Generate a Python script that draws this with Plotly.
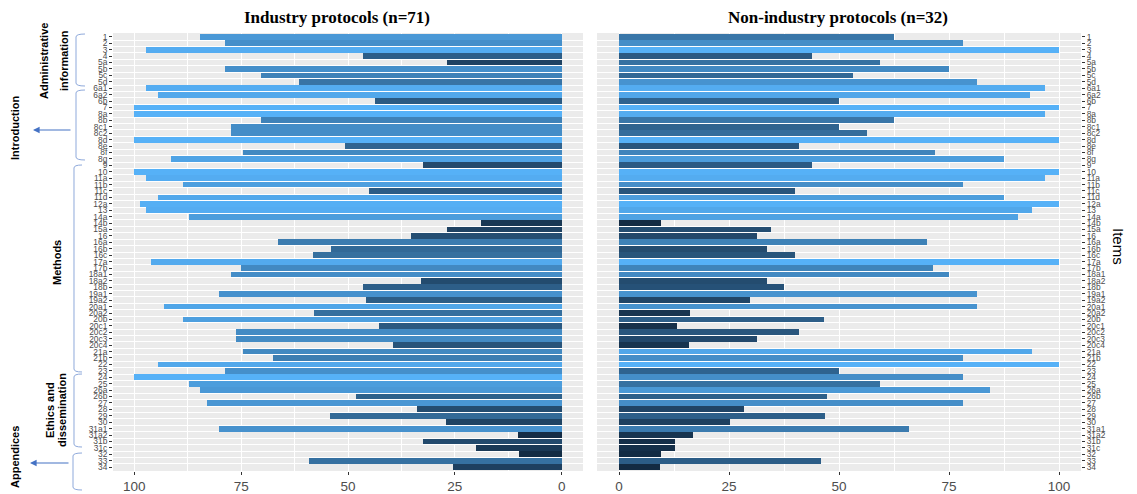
import numpy as np
import plotly.graph_objects as go

items = ["1","2","3","4","5a","5b","5c","5d","6a1","6a2","6b","7","8a","8b","8c1","8c2","8d","8e","8f","8g",
         "9","10","11a","11b","11c","11d","12a","13","14a","14b","15a","16","16a","16b","16c","17a","17b",
         "18a1","18a2","18b","19a1","19a2","20a1","20a2","20b","20c1","20c2","20c3","20c4","21a","21b",
         "22","23","24","25","26a","26b","27","28","29","30","31a1","31a2","31b","31c","32","33","34"]

industry = [84.6,78.9,97.2,46.5,26.8,78.9,70.4,61.4,97.2,94.4,43.7,100,100,70.4,77.5,77.5,100,50.7,74.6,91.5,
            32.4,100,97.2,88.7,45.1,94.4,98.6,97.2,87.3,18.9,26.8,35.2,66.4,54.0,58.3,96.0,75.0,
            77.5,32.8,46.5,80.3,45.8,93.0,57.9,88.7,42.8,76.1,76.1,39.4,74.6,67.6,
            94.4,78.9,100,87.3,84.6,48.2,83.1,33.8,54.3,27.0,80.3,10.2,32.4,20.0,9.9,59.2,25.4]

non_industry = [62.5,78.1,100,43.8,59.4,75.0,53.1,81.3,96.9,93.4,50.0,100,96.9,62.5,50.0,56.4,100,40.8,71.9,87.5,
                43.8,100,96.9,78.1,40.1,87.5,100,93.8,90.7,9.5,34.5,31.3,70.1,33.6,40.1,100,71.4,
                75.1,33.6,37.6,81.4,29.7,81.4,16.1,46.5,13.2,40.8,31.3,15.9,93.9,78.2,
                100,50.1,78.2,59.4,84.4,47.2,78.2,28.3,46.9,25.2,65.8,16.8,12.7,12.7,9.5,46.0,9.3]

titles = ["Industry protocols (n=71)", "Non-industry protocols (n=32)"]
x_ticks = [0, 25, 50, 75, 100]

# ---------- colour: ggplot-like Lab gradient ----------
def _hex2rgb(h):
    h = h.lstrip('#'); return np.array([int(h[i:i+2], 16) for i in (0, 2, 4)]) / 255.0
def _rgb2lab(c):
    c = np.where(c <= 0.04045, c / 12.92, ((c + 0.055) / 1.055) ** 2.4)
    M = np.array([[0.4124, 0.3576, 0.1805], [0.2126, 0.7152, 0.0722], [0.0193, 0.1192, 0.9505]])
    xyz = M @ c / np.array([0.95047, 1.0, 1.08883])
    f = np.where(xyz > 0.008856, np.cbrt(xyz), 7.787 * xyz + 16 / 116)
    return np.array([116 * f[1] - 16, 500 * (f[0] - f[1]), 200 * (f[1] - f[2])])
def _lab2hex(lab):
    fy = (lab[0] + 16) / 116; fx = fy + lab[1] / 500; fz = fy - lab[2] / 200
    f = np.array([fx, fy, fz])
    xyz = np.where(f ** 3 > 0.008856, f ** 3, (f - 16 / 116) / 7.787) * np.array([0.95047, 1.0, 1.08883])
    Mi = np.array([[3.2406, -1.5372, -0.4986], [-0.9689, 1.8758, 0.0415], [0.0557, -0.2040, 1.0570]])
    c = Mi @ xyz
    c = np.where(c <= 0.0031308, 12.92 * c, 1.055 * np.clip(c, 0, None) ** (1 / 2.4) - 0.055)
    c = np.clip(np.round(c * 255), 0, 255).astype(int)
    return '#%02x%02x%02x' % tuple(c)
LOW, HIGH = _rgb2lab(_hex2rgb('#132B43')), _rgb2lab(_hex2rgb('#56B1F7'))
vmin = min(min(industry), min(non_industry)); vmax = max(max(industry), max(non_industry))
def colours(vals):
    return [_lab2hex(LOW + (HIGH - LOW) * ((v - vmin) / (vmax - vmin))) for v in vals]

W, H = 1137, 494
OFF = 8  # page body margin offset
def X(px): return (px - OFF) / W
def Y(py): return 1 - (py - OFF) / H

pos = list(range(len(items)))

fig = go.Figure()
fig.add_trace(go.Bar(y=pos, x=industry, orientation='h', width=0.9, xaxis='x', yaxis='y',
                     marker=dict(color=colours(industry), line=dict(width=0)), showlegend=False))
fig.add_trace(go.Bar(y=pos, x=non_industry, orientation='h', width=0.9, xaxis='x2', yaxis='y2',
                     marker=dict(color=colours(non_industry), line=dict(width=0)), showlegend=False))

tickfont_y = dict(family="Liberation Sans", size=8.4, color="#4D4D4D")
tickfont_x = dict(family="Liberation Sans", size=13.5, color="#4D4D4D")
ydom = [Y(471), Y(33)]
common_x = dict(tickvals=x_ticks, showgrid=True, gridcolor='white', gridwidth=1.4,
                zeroline=False, ticks='outside', ticklen=3, tickcolor='#333333', tickfont=tickfont_x,
                minor=dict(dtick=12.5, tick0=0, showgrid=True, gridcolor='white', gridwidth=0.7, ticks=''),
                showline=False, automargin=False, fixedrange=True)
common_y = dict(range=[len(items) - 0.4, -0.6], tickvals=pos, ticktext=items, showgrid=False,
                zeroline=False, ticks='outside', ticklen=3, tickcolor='#333333', tickfont=tickfont_y,
                minor=dict(tick0=0.5, dtick=1, showgrid=True, gridcolor='white', gridwidth=1, ticks=''),
                domain=ydom, automargin=False, fixedrange=True)

fig.update_layout(
    width=W, height=H, margin=dict(l=0, r=0, t=0, b=0),
    paper_bgcolor='white', plot_bgcolor='#EBEBEB', bargap=0,
    xaxis=dict(common_x, range=[105, -5], domain=[X(113), X(583)], anchor='y'),
    xaxis2=dict(common_x, range=[-5, 105], domain=[X(597), X(1081)], anchor='y2'),
    yaxis=dict(common_y, anchor='x', side='left'),
    yaxis2=dict(common_y, anchor='x2', side='right'),
)

ann = []
ann.append(dict(text="<b>%s</b>" % titles[0], x=X(337), y=Y(17), xref='paper', yref='paper', showarrow=False,
                font=dict(family="Liberation Serif", size=17, color='black'), xanchor='center', yanchor='middle'))
ann.append(dict(text="<b>%s</b>" % titles[1], x=X(838), y=Y(17), xref='paper', yref='paper', showarrow=False,
                font=dict(family="Liberation Serif", size=17, color='black'), xanchor='center', yanchor='middle'))
ann.append(dict(text="Items", x=X(1119), y=Y(246), xref='paper', yref='paper', showarrow=False, textangle=90,
                font=dict(family="Liberation Sans", size=15, color='black'), xanchor='center', yanchor='middle'))

sec_font = dict(family="Liberation Sans", size=11, color='black')
for txt, px, py in [("Administrative", 44, 61), ("information", 64, 61), ("Introduction", 15, 128),
                    ("Methods", 57, 263), ("Ethics and", 50, 410), ("dissemination", 62, 410),
                    ("Appendices", 15, 457)]:
    ann.append(dict(text="<b>%s</b>" % txt, x=X(px), y=Y(py), xref='paper', yref='paper', showarrow=False,
                    textangle=-90, font=sec_font, xanchor='center', yanchor='middle'))

for py, x0, x1 in [(130, 33, 72), (463, 30, 70)]:
    ann.append(dict(text="", x=X(x0), y=Y(py), ax=x1 - x0, ay=0, xref='paper', yref='paper',
                    axref='pixel', ayref='pixel', showarrow=True, arrowhead=2, arrowsize=1.1,
                    arrowwidth=1.2, arrowcolor='#4472C4'))
fig.update_layout(annotations=ann)

def brace(top, bottom, xl, xe, r=3):
    p = "M %f,%f Q %f,%f %f,%f L %f,%f Q %f,%f %f,%f" % (
        X(xe), Y(top), X(xl), Y(top), X(xl), Y(top + r), X(xl), Y(bottom - r),
        X(xl), Y(bottom), X(xe), Y(bottom))
    return dict(type='path', path=p, xref='paper', yref='paper', line=dict(color='#8EA9DB', width=1))

shapes = [brace(34, 86, 76, 85), brace(90, 160, 76, 85), brace(165, 372, 74, 82),
          brace(374, 447, 74, 82), brace(453, 490, 73, 82)]
fig.update_layout(shapes=shapes)

fig.write_html("out.html")
